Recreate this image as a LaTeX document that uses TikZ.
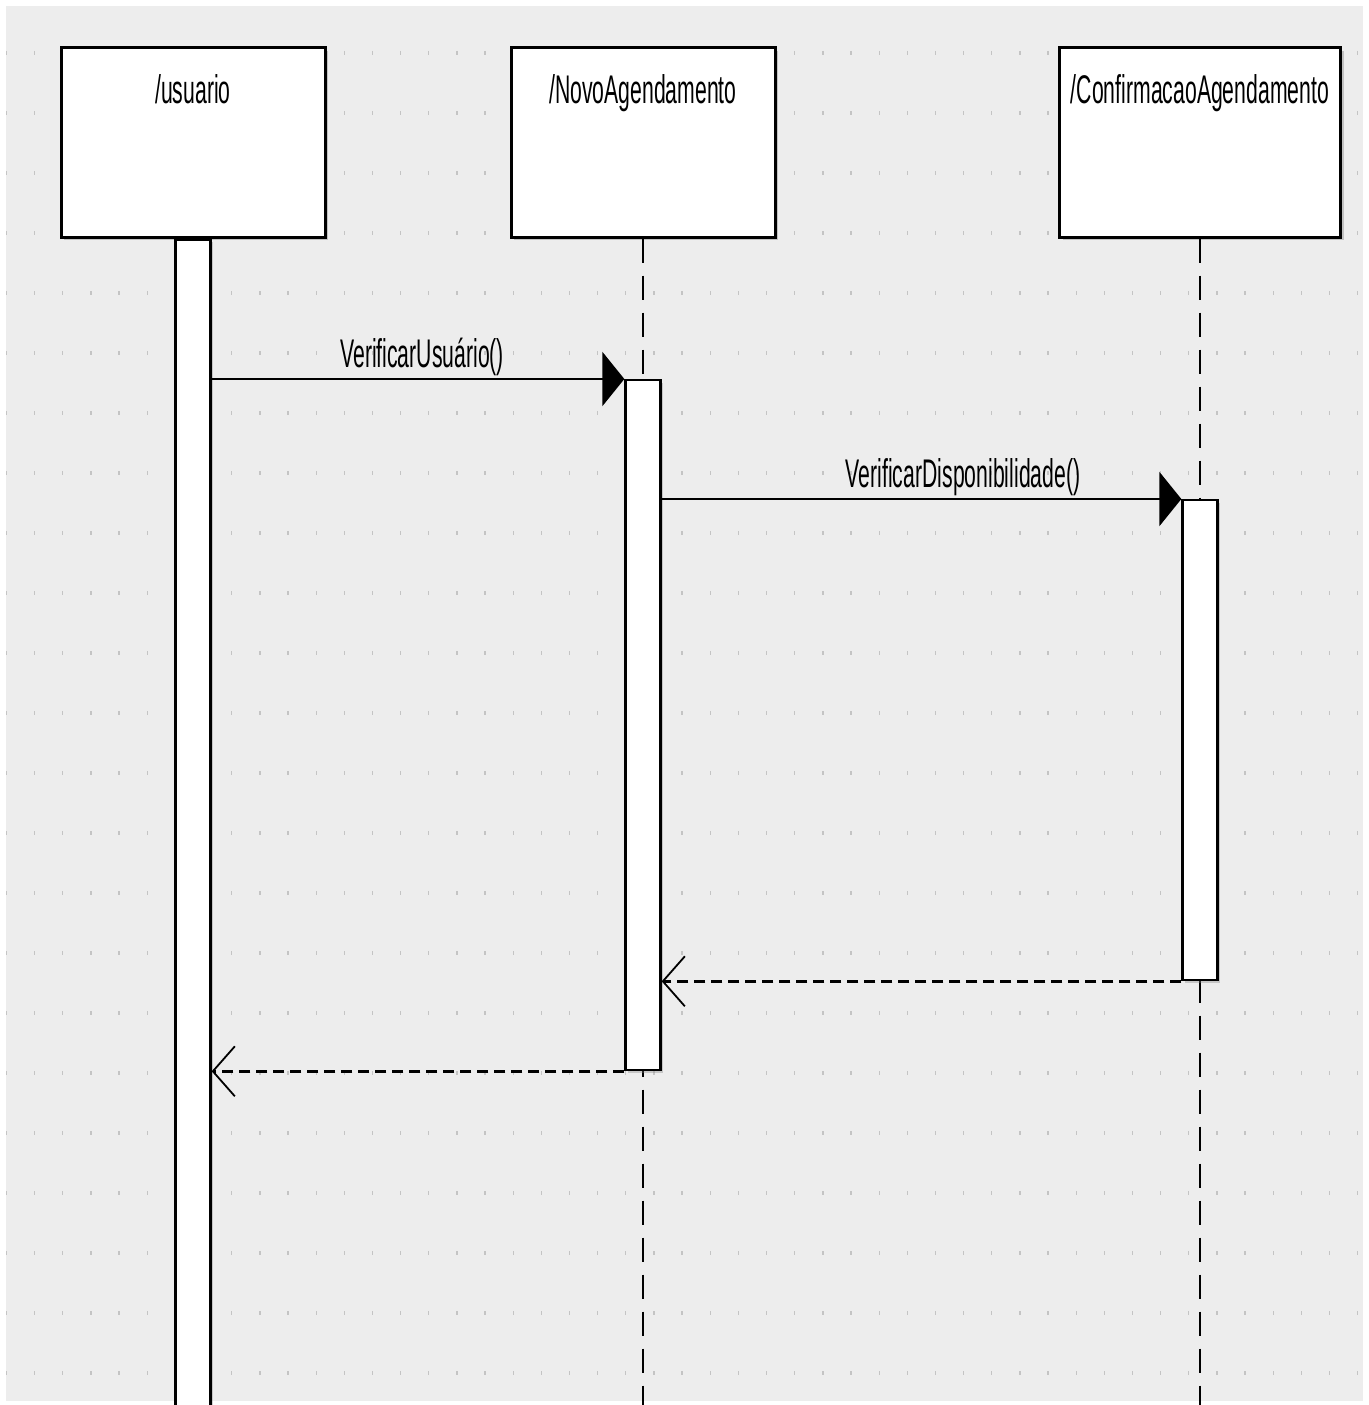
\documentclass[tikz,border=0pt]{standalone}
\usepackage{fontspec}
\usetikzlibrary{arrows.meta,shadows,positioning}
\newfontfamily\umlfont[FakeStretch=0.53]{Liberation Sans}
\definecolor{canvas}{HTML}{EDEDED}
\definecolor{griddot}{HTML}{C4C4C4}
\begin{document}
\begin{tikzpicture}[x=1pt,y=-1pt,font=\umlfont\fontsize{40}{48}\selectfont,
	objbox/.style={draw=black,line width=3pt,fill=white,minimum width=264pt,minimum height=189pt,inner sep=0pt,
		drop shadow={shadow xshift=3pt,shadow yshift=-3pt,fill=black!50,opacity=.4}},
	actbar/.style={draw=black,line width=2.3pt,fill=white,minimum width=35pt,inner sep=0pt,anchor=north,
		drop shadow={shadow xshift=2.5pt,shadow yshift=-2.5pt,fill=black!50,opacity=.35}},
	title/.style={anchor=base,inner sep=0pt},
	msg/.style={anchor=base,inner sep=0pt,yshift=12pt},
	lifeline/.style={line width=2.2pt,black,dash pattern=on 24pt off 13pt},
	call/.style={line width=2.4pt,black,-{Triangle[length=22pt,width=54pt]}},
	reply/.style={line width=2.8pt,black,dash pattern=on 11pt off 6pt,-{Straight Barb[length=22pt,width=50pt,line width=1.8pt]}}]
	\useasboundingbox (0,0) rectangle (1368,1405);
	\fill[white] (0,0) rectangle (1368,1405);
	\fill[canvas] (6,6) rectangle (1363,1401);
	\foreach \i in {0,...,48}\foreach \j in {0,...,22}\draw[griddot,line width=1.3pt] (6.5+28.15*\i,51+60*\j)--++(0,4);
	\node[objbox] (usuario) at (193,142.5) {};
	\node[objbox] (novo) at (643,142.5) {};
	\node[objbox,minimum width=281pt] (confirma) at (1200,142.5) {};
	\node[title] (usuarioT) at ([yshift=-57pt]usuario.north) {/usuario};
	\node[title] (novoT) at ([yshift=-57pt]novo.north) {/NovoAgendamento};
	\node[title] (confirmaT) at ([yshift=-57pt]confirma.north) {/ConfirmacaoAgendamento};
	\coordinate (novoEnd) at (novo.south |- 0,1405);
	\coordinate (confirmaEnd) at (confirma.south |- 0,1405);
	\draw[lifeline] (novo.south)--(novoEnd);
	\draw[lifeline] (confirma.south)--(confirmaEnd);
	\node[actbar,minimum height=1190pt] (usuarioBar) at (usuario.south) {};
	\node[actbar,minimum height=690pt] (novoBar) at (novo.south |- 0,379) {};
	\node[actbar,minimum height=480pt] (confirmaBar) at (confirma.south |- 0,499) {};
	\draw[call] (usuarioBar.east |- novoBar.north)--node[msg,pos=.51]{VerificarUsuário()}(novoBar.north west);
	\draw[call] (novoBar.east |- confirmaBar.north)--node[msg,pos=.58]{VerificarDisponibilidade()}(confirmaBar.north west);
	\draw[reply] (confirmaBar.south west)--(novoBar.east |- confirmaBar.south);
	\draw[reply] (novoBar.south west)--(usuarioBar.east |- novoBar.south);
\end{tikzpicture}
\end{document}
